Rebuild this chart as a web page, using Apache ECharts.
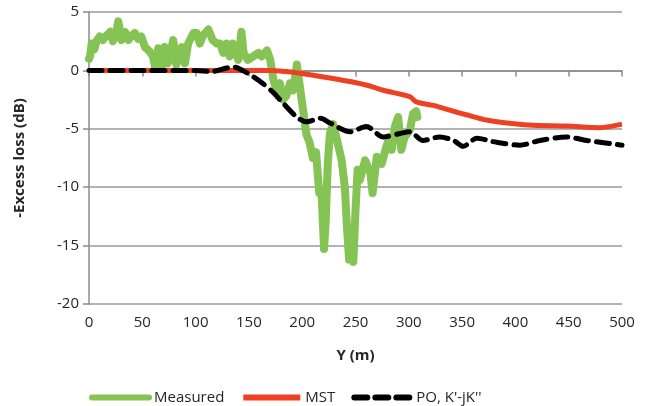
<!DOCTYPE html>
<html>
<head>
<meta charset="utf-8">
<script src="https://cdn.jsdelivr.net/npm/echarts@6/dist/echarts.min.js"></script>
<style>
  html, body { margin: 0; padding: 0; background: #fff; }
  #chart { width: 657px; height: 406px; }
</style>
</head>
<body>
<div id="chart"></div>
<script>
// measured excess loss
var measX = [0, 1, 2.5, 5, 7, 10, 13, 16.6, 20, 22.5, 25, 27.5, 30.6, 33.8, 37, 40, 43, 46, 49, 52.5, 57, 60,
  62, 65, 68, 71, 74, 79, 82, 87, 90, 93, 98, 101, 104, 107, 112, 116, 120, 123, 126, 129,
  132, 135, 140, 143, 145, 149, 154, 159, 162, 167, 170, 173, 176, 179, 182, 185, 188.5, 191.5, 195, 198,
  201, 204, 207, 210, 213, 216, 218, 220.5, 222, 224, 226, 229, 232, 237, 240, 242, 244, 246, 248, 250,
  252, 254, 259, 264, 266, 270, 274.5, 279, 282, 284, 287, 290, 293, 296, 301, 304, 307, 308];
var measY = [1.0, 1.2, 2.3, 1.8, 2.5, 2.9, 2.6, 3.0, 3.3, 2.5, 3.0, 4.2, 2.6, 3.3, 2.6, 3.0, 3.2, 2.7, 2.9, 2.0, 1.6, 1.2,
  0.3, 1.9, 0.3, 2.0, 0.6, 2.6, 0.5, 2.0, 0.6, 2.3, 3.2, 3.2, 2.3, 3.0, 3.5, 2.6, 2.3, 2.3, 1.5, 2.3,
  1.2, 2.3, 0.9, 3.3, 1.5, 0.9, 1.2, 1.5, 1.2, 1.7, 0.9, -0.8, -1.7, -1.1, -2.5, -2.2, -1.1, -1.7, 0.5, -1.5,
  -3.5, -5.5, -6.2, -7.5, -7.0, -10.5, -10.2, -15.3, -13.0, -8.0, -5.4, -4.6, -5.7, -7.7, -10.0, -13.4, -16.2, -15.5, -16.4, -12.0,
  -8.5, -9.4, -7.7, -8.8, -10.5, -7.4, -8.0, -6.5, -5.7, -6.8, -4.8, -4.0, -6.8, -5.7, -5.1, -3.7, -3.5, -4.0];

// MST prediction
var mstX = [0, 50, 100, 150, 170, 185, 198, 229, 260, 276, 301, 307, 323, 342, 354, 373, 392, 417, 448, 479, 500];
var mstY = [0, 0, 0, 0, 0, -0.1, -0.25, -0.7, -1.25, -1.7, -2.25, -2.7, -3.0, -3.5, -3.8, -4.25, -4.5, -4.7, -4.76, -4.9, -4.6];

// PO, K'-jK'' prediction
var poX = [0, 50, 100, 115, 129, 135, 148, 160, 173, 179, 195, 204, 217, 226, 245, 260, 276, 292, 301, 313,
  329, 342, 351, 364, 379, 404, 423, 448, 467, 500];
var poY = [0, 0, 0, -0.1, 0.2, 0.3, -0.2, -0.9, -1.9, -2.5, -4.0, -4.4, -4.1, -4.5, -5.25, -4.8, -5.7, -5.4, -5.25, -6.0,
  -5.7, -6.0, -6.5, -5.8, -6.1, -6.4, -6.0, -5.7, -6.0, -6.4];

var xTicks = [0, 50, 100, 150, 200, 250, 300, 350, 400, 450, 500];
var yTicks = [-20, -15, -10, -5, 0, 5];

function pairs(xs, ys) {
  return xs.map(function (x, i) { return [x, ys[i]]; });
}

var font = '"Open Sans", "Liberation Sans", sans-serif';
var chart = echarts.init(document.getElementById('chart'), null, { renderer: 'canvas' });

chart.setOption({
  animation: false,
  grid: { left: 89, right: 35, top: 12, bottom: 102, containLabel: false },
  legend: {
    left: 84,
    top: 385,
    itemWidth: 57,
    itemHeight: 8,
    itemGap: 16,
    itemStyle: { opacity: 0 },
    lineStyle: { width: 6 },
    textStyle: { fontFamily: font, fontSize: 15, color: '#262626' },
    data: ['Measured', 'MST', "PO, K'-jK''"]
  },
  xAxis: {
    type: 'value',
    min: xTicks[0],
    max: xTicks[xTicks.length - 1],
    interval: 50,
    name: 'Y (m)',
    nameLocation: 'middle',
    nameGap: 44,
    nameTextStyle: { fontFamily: font, fontSize: 15, fontWeight: 'bold', color: '#262626' },
    axisLine: { show: true, lineStyle: { color: '#8c8c8c', width: 1.5 } },
    axisTick: { show: true, length: 6, lineStyle: { color: '#8c8c8c', width: 1.5 } },
    axisLabel: { fontFamily: font, fontSize: 15, color: '#262626', margin: 11 },
    splitLine: { show: false }
  },
  yAxis: {
    type: 'value',
    min: yTicks[0],
    max: yTicks[yTicks.length - 1],
    interval: 5,
    name: '-Excess loss (dB)',
    nameLocation: 'middle',
    nameGap: 62,
    nameTextStyle: { fontFamily: font, fontSize: 15, fontWeight: 'bold', color: '#262626' },
    axisLine: { show: true, lineStyle: { color: '#8c8c8c', width: 1.5 } },
    axisTick: { show: true, length: 6, lineStyle: { color: '#8c8c8c', width: 1.5 } },
    axisLabel: { fontFamily: font, fontSize: 15, color: '#262626', margin: 10 },
    splitLine: { show: true, lineStyle: { color: '#9a9a9a', width: 1.5 } }
  },
  series: [
    {
      name: 'Measured',
      type: 'line',
      showSymbol: false,
      symbol: 'none',
      smooth: false,
      lineStyle: { color: '#84c354', width: 8, join: 'round', cap: 'round' },
      itemStyle: { color: '#84c354' },
      data: pairs(measX, measY),
      z: 2
    },
    {
      name: 'MST',
      type: 'line',
      showSymbol: false,
      symbol: 'none',
      smooth: 0.3,
      lineStyle: { color: '#ee4124', width: 5 },
      itemStyle: { color: '#ee4124' },
      data: pairs(mstX, mstY),
      z: 3
    },
    {
      name: "PO, K'-jK''",
      type: 'line',
      showSymbol: false,
      symbol: 'none',
      smooth: 0.3,
      lineStyle: { color: '#000000', width: 5, type: [13, 8], cap: 'round' },
      itemStyle: { color: '#000000' },
      data: pairs(poX, poY),
      z: 4
    }
  ]
});
</script>
</body>
</html>
